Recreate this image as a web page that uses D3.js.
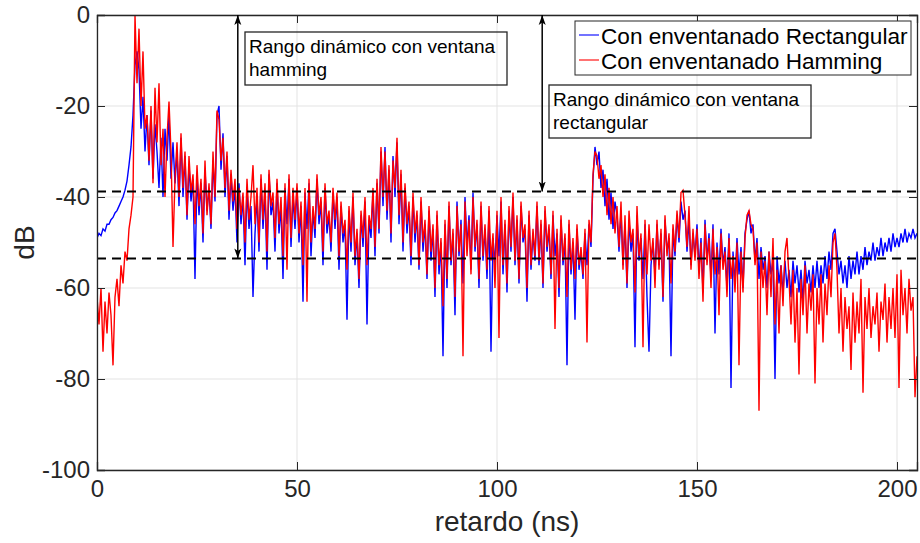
<!DOCTYPE html>
<html>
<head>
<meta charset="utf-8">
<script src="https://cdn.jsdelivr.net/npm/d3@7"></script>
<style>
  body { margin: 0; background: #fff; }
  svg { display: block; font-family: 'Liberation Sans', Arial, sans-serif; }
  .tick text { fill: #262626; }
</style>
</head>
<body>
<svg id="chart" width="920" height="543"></svg>
<script>
// sampling grid of the two delay profiles (ns)
const sampleStepNs = 0.5

// rectangular window, dB, one value per 0.5 ns from 0 to 205 ns
const rectangularDb = [
  -49, -48, -48.5, -47, -47.5, -46, -46, -45, -44.5, -43.5, -43, -42, -41, -40, -38.5, -36.5, -33, -29, -22, -11,
  -8, -12, -25, -18, -30, -22, -33, -21, -36, -24, -30, -38, -27, -40, -25, -32, -22, -36, -28, -37,
  -30, -42, -27, -40, -31, -45, -33, -41, -36, -58, -35, -44, -37, -50, -34, -43, -38, -47, -32, -41,
  -22, -20, -34, -26, -40, -31, -45, -35, -43, -38, -50, -37, -46, -40, -55, -38, -47, -42, -62, -48,
  -40, -52, -36, -47, -39, -56, -35, -44, -41, -52, -37, -48, -42, -58, -38, -46, -36, -51, -40, -47,
  -38, -50, -42, -63, -39, -47, -37, -53, -43, -49, -36, -46, -41, -55, -38, -48, -44, -52, -39, -47,
  -40, -56, -42, -50, -46, -67, -43, -52, -40, -55, -48, -60, -44, -51, -41, -68, -45, -49, -39, -53,
  -37, -48, -30, -42, -29, -45, -34, -50, -31, -40, -28, -46, -35, -52, -38, -48, -42, -55, -40, -50,
  -44, -56, -41, -52, -46, -58, -43, -54, -47, -62, -44, -57, -50, -75, -46, -60, -42, -55, -48, -66,
  -41, -53, -45, -59, -40, -51, -44, -56, -39, -52, -46, -60, -42, -54, -47, -58, -43, -74, -49, -55,
  -44, -53, -41, -57, -46, -61, -43, -52, -40, -55, -45, -59, -42, -50, -47, -63, -44, -56, -48, -54,
  -42, -55, -46, -60, -43, -52, -47, -58, -44, -53, -48, -62, -45, -55, -49, -77, -46, -57, -50, -67,
  -47, -56, -52, -58, -48, -55, -46, -51, -36, -29, -33, -30, -38, -34, -42, -36, -45, -39, -47, -41,
  -44, -52, -43, -55, -46, -60, -45, -52, -48, -73, -44, -54, -49, -58, -46, -62, -74, -55, -50, -57,
  -46, -55, -48, -63, -45, -52, -49, -75, -47, -53, -44, -50, -41, -45, -43, -52, -45, -55, -48, -53,
  -46, -56, -49, -61, -45, -54, -48, -58, -46, -70, -50, -57, -47, -55, -51, -60, -48, -82, -52, -59,
  -49, -57, -51, -60, -48, -45, -43, -48, -46, -54, -49, -58, -51, -56, -53, -60, -52, -57, -54, -80,
  -53, -59, -55, -61, -54, -60, -56, -62, -54, -59, -55, -61, -56, -63, -54, -59, -56, -61, -55, -60,
  -54, -60, -55, -59, -53, -58, -52, -56, -48, -47, -52, -57, -54, -59, -55, -60, -53, -58, -54, -57,
  -52, -57, -53, -56, -51, -55, -52, -54, -50, -54, -51, -53, -49, -53, -50, -52, -49, -52, -48, -51,
  -49, -51, -48, -50, -47, -50, -48, -49, -47, -49, -48
]

// hamming window, dB, same grid
const hammingDb = [
  -62, -68, -60, -74, -63, -70, -61, -66, -77, -62, -58, -64, -55, -59, -52, -54, -47, -44, -40, 0,
  -15, -3, -20, -8, -25, -22, -32, -20, -37, -16, -28, -15, -33, -25, -40, -27, -19, -30, -51, -36,
  -28, -40, -26, -38, -30, -44, -31, -39, -35, -46, -33, -42, -36, -48, -32, -44, -37, -46, -30, -40,
  -21, -23, -32, -27, -38, -30, -43, -34, -41, -36, -47, -38, -44, -39, -50, -36, -45, -40, -33, -46,
  -38, -50, -35, -45, -37, -52, -34, -42, -39, -49, -36, -46, -40, -53, -37, -56, -35, -49, -38, -45,
  -37, -48, -41, -55, -38, -63, -36, -50, -42, -47, -35, -44, -40, -52, -37, -46, -43, -50, -38, -45,
  -39, -53, -41, -48, -45, -56, -42, -50, -39, -53, -47, -58, -43, -49, -40, -55, -44, -47, -38, -51,
  -36, -47, -29, -40, -30, -43, -33, -48, -32, -38, -27, -44, -34, -50, -37, -46, -41, -53, -39, -48,
  -43, -55, -40, -50, -45, -57, -42, -52, -46, -60, -43, -55, -49, -64, -45, -58, -41, -54, -47, -62,
  -42, -52, -46, -75, -41, -53, -45, -57, -40, -51, -45, -58, -41, -53, -46, -56, -42, -54, -48, -60,
  -43, -71, -40, -55, -45, -59, -42, -51, -39, -54, -44, -58, -41, -49, -46, -60, -43, -55, -47, -53,
  -41, -54, -45, -59, -42, -51, -46, -57, -43, -69, -47, -60, -44, -54, -48, -62, -45, -56, -49, -58,
  -46, -55, -51, -57, -47, -72, -45, -50, -35, -30, -31, -36, -33, -40, -35, -44, -38, -46, -40, -48,
  -42, -51, -41, -56, -44, -59, -43, -50, -47, -61, -42, -53, -48, -73, -45, -57, -46, -54, -49, -60,
  -45, -56, -47, -62, -44, -53, -48, -59, -46, -52, -43, -49, -39, -38.5, -44, -51, -42, -56, -47, -54,
  -47, -58, -50, -63, -46, -55, -49, -60, -47, -57, -51, -66, -48, -56, -52, -62, -49, -58, -53, -61,
  -50, -77, -52, -61, -49, -44, -43, -46, -47, -55, -50, -87, -52, -60, -54, -66, -52, -62, -49, -68,
  -56, -70, -55, -64, -52, -49, -58, -68, -56, -72, -60, -79, -58, -66, -55, -70, -59, -65, -57, -81,
  -60, -68, -57, -72, -59, -66, -55, -62, -50, -48, -56, -70, -60, -74, -62, -69, -64, -78, -61, -72,
  -63, -70, -58, -83, -62, -69, -60, -71, -64, -68, -61, -74, -63, -67, -59, -72, -62, -69, -60, -71,
  -57, -82, -56, -66, -60, -70, -58, -65, -62, -84, -75
]

const xTicks = [0, 50, 100, 150, 200]
const yTicks = [-100, -80, -60, -40, -20, 0]
const seriesNames = ['Con enventanado Rectangular', 'Con enventanado Hamming']
const seriesColors = ['#0000ff', '#ff0000']

// dynamic range markers: threshold levels (dB) and where the arrows sit (ns)
const thresholdLevels = [-38.8, -53.5]
const rangeArrows = [
  { at: 35.2, from: 0, to: -53.5, lines: ['Rango dinámico con ventana', 'hamming'], box: [245, 32, 262, 53] },
  { at: 111.3, from: 0, to: -38.8, lines: ['Rango dinámico con ventana', 'rectangular'], box: [549, 85, 262, 53] }
]

const margin = { top: 15, right: 3, bottom: 73, left: 97 }
const W = 920
const H = 543

const svg = d3.select('#chart')
const x = d3.scaleLinear().domain([0, 205]).range([margin.left, W - margin.right])
const y = d3.scaleLinear().domain([-100, 0]).range([H - margin.bottom, margin.top])

const defs = svg.append('defs')
defs.append('marker').attr('id', 'head')
  .attr('viewBox', '0 0 10 10').attr('refX', 10).attr('refY', 5)
  .attr('markerWidth', 10).attr('markerHeight', 10).attr('markerUnits', 'userSpaceOnUse')
  .attr('orient', 'auto-start-reverse')
  .append('path').attr('d', 'M0,1.5 L10,5 L0,8.5 L2.5,5 Z').attr('fill', '#000')
defs.append('clipPath').attr('id', 'plotClip')
  .append('rect').attr('x', x(0)).attr('y', y(0) - 1).attr('width', x(205) - x(0)).attr('height', y(-100) - y(0) + 2)

// grid
svg.append('g').selectAll('line.vgrid').data(xTicks).enter().append('line')
  .attr('x1', d => x(d)).attr('x2', d => x(d)).attr('y1', y(0)).attr('y2', y(-100))
  .attr('stroke', '#e3e3e3').attr('stroke-width', 1)
svg.append('g').selectAll('line.hgrid').data(yTicks).enter().append('line')
  .attr('x1', x(0)).attr('x2', x(205)).attr('y1', d => y(d)).attr('y2', d => y(d))
  .attr('stroke', '#e3e3e3').attr('stroke-width', 1)

// series
const line = d3.line().x((d, i) => x(i * sampleStepNs)).y(d => y(d))
const plot = svg.append('g').attr('clip-path', 'url(#plotClip)')
;[rectangularDb, hammingDb].forEach((values, k) => {
  plot.append('path').datum(values)
    .attr('d', line)
    .attr('fill', 'none')
    .attr('stroke', seriesColors[k])
    .attr('stroke-width', 1.4)
    .attr('stroke-linejoin', 'miter')
})

// dashed thresholds
svg.append('g').selectAll('line').data(thresholdLevels).enter().append('line')
  .attr('x1', x(0)).attr('x2', x(205)).attr('y1', d => y(d)).attr('y2', d => y(d))
  .attr('stroke', '#000').attr('stroke-width', 2).attr('stroke-dasharray', '9,6')

// axes (ticks inside, MATLAB style)
const axisColor = '#262626'
const plainNum = d => String(d)
const gx = svg.append('g').attr('transform', `translate(0,${y(-100)})`)
  .call(d3.axisBottom(x).tickValues(xTicks).tickSize(-8).tickPadding(10).tickFormat(plainNum))
const gy = svg.append('g').attr('transform', `translate(${x(0)},0)`)
  .call(d3.axisLeft(y).tickValues(yTicks).tickSize(-8).tickPadding(7).tickFormat(plainNum))
const gxTop = svg.append('g').attr('transform', `translate(0,${y(0)})`)
  .call(d3.axisTop(x).tickValues(xTicks).tickSize(-8).tickFormat(''))
const gyRight = svg.append('g').attr('transform', `translate(${x(205)},0)`)
  .call(d3.axisRight(y).tickValues(yTicks).tickSize(-8).tickFormat(''))
;[gx, gy, gxTop, gyRight].forEach(g => {
  g.select('.domain').attr('stroke', axisColor).attr('stroke-width', 1.3)
  g.selectAll('.tick line').attr('stroke', axisColor).attr('stroke-width', 1)
  g.selectAll('.tick text').attr('font-size', 24).attr('font-family', 'Liberation Sans, Arial, sans-serif')
})

svg.append('text').attr('x', (x(0) + x(205)) / 2).attr('y', 531)
  .attr('text-anchor', 'middle').attr('font-size', 28).attr('fill', axisColor)
  .text('retardo (ns)')
svg.append('text').attr('transform', `translate(34,${(y(0) + y(-100)) / 2}) rotate(-90)`)
  .attr('text-anchor', 'middle').attr('font-size', 28).attr('fill', axisColor)
  .text('dB')

// dynamic range arrows and their text boxes
rangeArrows.forEach(a => {
  svg.append('line')
    .attr('x1', x(a.at)).attr('x2', x(a.at)).attr('y1', y(a.from)).attr('y2', y(a.to))
    .attr('stroke', '#000').attr('stroke-width', 1.5)
    .attr('marker-start', 'url(#head)').attr('marker-end', 'url(#head)')
  const [bx, by, bw, bh] = a.box
  svg.append('rect').attr('x', bx).attr('y', by).attr('width', bw).attr('height', bh)
    .attr('fill', 'none').attr('stroke', '#262626').attr('stroke-width', 1.3)
  svg.append('g').selectAll('text').data(a.lines).enter().append('text')
    .attr('x', bx + 4).attr('y', (d, i) => by + 21 + i * 23)
    .attr('font-size', 19).attr('fill', '#000')
    .text(d => d)
})

// legend
const legend = svg.append('g')
legend.append('rect').attr('x', 575).attr('y', 21).attr('width', 336).attr('height', 54)
  .attr('fill', '#fff').attr('stroke', '#262626').attr('stroke-width', 1)
seriesNames.forEach((name, i) => {
  const ly = 35 + i * 25
  legend.append('line').attr('x1', 579).attr('x2', 599).attr('y1', ly).attr('y2', ly)
    .attr('stroke', seriesColors[i]).attr('stroke-width', 1.1)
  legend.append('text').attr('x', 601).attr('y', ly + 8.5)
    .attr('font-size', 22.6).attr('fill', '#000').text(name)
})
</script>
</body>
</html>
